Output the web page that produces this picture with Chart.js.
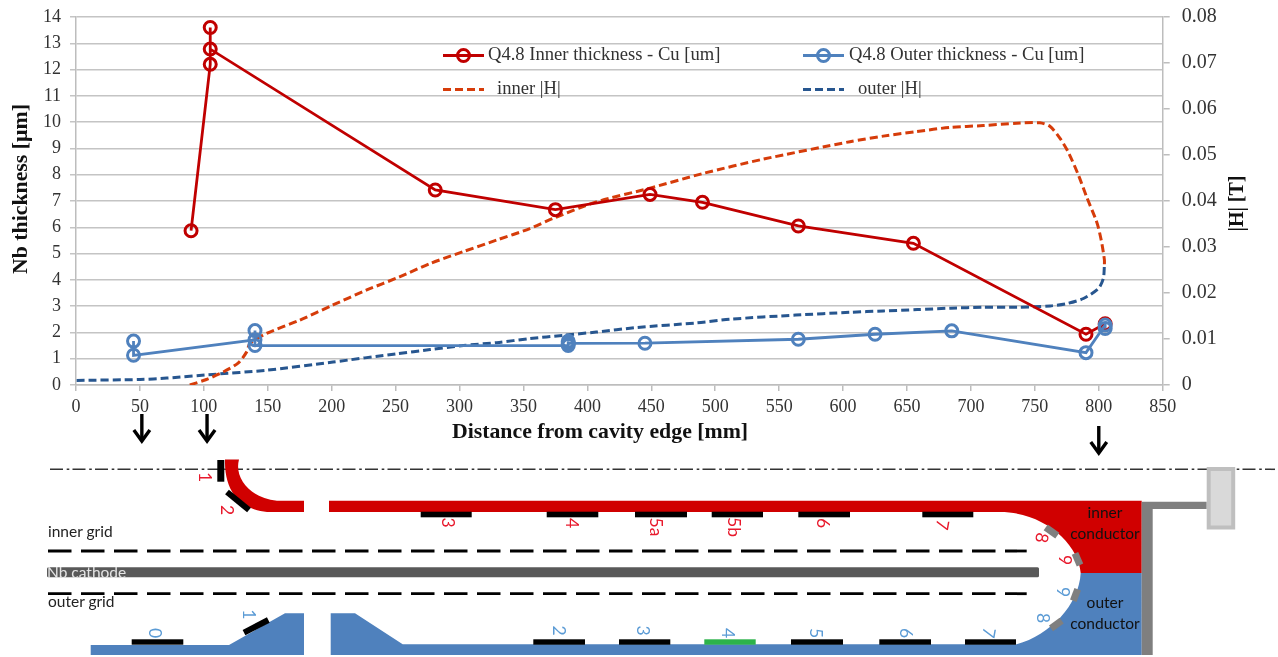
<!DOCTYPE html>
<html>
<head>
<meta charset="utf-8">
<title>Nb thickness</title>
<script src="https://cdn.jsdelivr.net/npm/chart.js@4"></script>
<style>
  html, body { margin: 0; background: #fff; overflow: hidden; }
  #wrap { position: relative; width: 1278px; height: 657px; }
  #wrap canvas, #wrap svg { position: absolute; left: 0; top: 0; }
  svg text { font-family: Lato, sans-serif; }
</style>
</head>
<body>
<div id="wrap">
  <canvas id="grafico"></canvas>
  <svg id="esquema" width="1278" height="657"></svg>
</div>
<script>
const innerX = [90, 105, 105, 105, 281, 375, 449, 490, 565, 655, 790, 805];
const innerY = [5.87, 12.2, 13.6, 12.78, 7.42, 6.67, 7.25, 6.95, 6.05, 5.39, 1.93, 2.33];

const outerX = [45, 45, 140, 140, 140, 385, 385, 385, 445, 565, 625, 685, 790, 805, 805];
const outerY = [1.67, 1.13, 1.72, 2.07, 1.5, 1.5, 1.66, 1.58, 1.59, 1.74, 1.93, 2.06, 1.23, 2.28, 2.15];

const innerHX = [89, 102, 115, 127, 133.5, 136, 149, 175, 201, 227, 253, 277, 303, 329, 355, 373, 407, 449, 490.6, 537.6, 605.4, 631.4, 657.5, 683.6, 709.7, 735.8, 754, 762, 769.7, 776, 784, 790.5, 797.8, 799.8, 802.4, 804.4, 804.4];
const innerHY = [0, 0.0012, 0.0028, 0.0048, 0.0072, 0.009, 0.0112, 0.0141, 0.0174, 0.0206, 0.0235, 0.0264, 0.029, 0.0315, 0.034, 0.0362, 0.0398, 0.0428, 0.046, 0.0491, 0.0529, 0.0541, 0.0551, 0.056, 0.0564, 0.0569, 0.057, 0.0562, 0.0536, 0.0507, 0.0457, 0.0409, 0.0359, 0.0341, 0.0308, 0.0272, 0.026];

const outerHX = [0.5, 50, 71, 107, 149, 201, 251, 277, 303, 329, 355, 381, 407, 438.6, 485.5, 511.5, 563, 605.4, 631.5, 658, 684, 710, 736, 762, 775, 788, 799.8, 803.6, 804.4];
const outerHY = [0.001, 0.0012, 0.0015, 0.0023, 0.0032, 0.005, 0.0068, 0.0077, 0.0086, 0.0092, 0.0101, 0.0108, 0.0115, 0.0125, 0.0135, 0.0143, 0.0152, 0.0158, 0.0161, 0.0164, 0.0167, 0.0169, 0.0169, 0.0172, 0.0177, 0.0188, 0.021, 0.0232, 0.026];

const arrowX = [51.5, 102.5, 800];

const COLOR_INNER = '#c00000';
const COLOR_OUTER = '#4f81bd';
const COLOR_INNER_H = '#d63c0a';
const COLOR_OUTER_H = '#27568f';
const SERIF = '"Liberation Serif", serif';

const puntos = (xs, ys) => xs.map((x, i) => ({ x, y: ys[i] }));

// keep the plot box where the reference has it, whatever the tick labels want
const fijar = (s, size) => {
  if (s.isHorizontal()) s.height = size; else s.width = size;
  s.paddingTop = 0;
  s.paddingBottom = 0;
  s.paddingLeft = 0;
  s.paddingRight = 0;
};

// axis titles, legend and the arrows under the x axis, drawn after the chart
const extras = {
  id: 'extras',
  afterDraw(chart) {
    const ctx = chart.ctx;
    const filas = [
      { i: 0, x: 443, y: 55.5, tx: 488 },
      { i: 1, x: 803, y: 55.5, tx: 849 },
      { i: 2, x: 443, y: 89.5, tx: 497 },
      { i: 3, x: 803, y: 89.5, tx: 858 }
    ];
    ctx.save();
    filas.forEach((f) => {
      const ds = chart.data.datasets[f.i];
      ctx.strokeStyle = ds.borderColor;
      ctx.lineWidth = ds.borderWidth;
      ctx.setLineDash(ds.borderDash || []);
      ctx.beginPath();
      ctx.moveTo(f.x, f.y);
      ctx.lineTo(f.x + 41, f.y);
      ctx.stroke();
      ctx.setLineDash([]);
      if (ds.pointRadius) {
        ctx.beginPath();
        ctx.arc(f.x + 20.5, f.y, ds.pointRadius, 0, Math.PI * 2);
        ctx.lineWidth = ds.pointBorderWidth;
        ctx.stroke();
      }
      ctx.fillStyle = '#333';
      ctx.font = '18.6px ' + SERIF;
      ctx.textBaseline = 'middle';
      ctx.fillText(ds.label, f.tx, f.y);
    });

    ctx.fillStyle = '#111';
    ctx.textAlign = 'center';
    ctx.font = 'bold 21.8px ' + SERIF;
    ctx.fillText('Distance from cavity edge [mm]', 600, 432);
    const vertical = (texto, x, y) => {
      ctx.save();
      ctx.translate(x, y);
      ctx.rotate(-Math.PI / 2);
      ctx.fillText(texto, 0, 0);
      ctx.restore();
    };
    vertical('Nb thickness [µm]', 21, 189);
    ctx.font = 'bold 20px ' + SERIF;
    vertical('|H| [T]', 1238, 203.5);

    ctx.strokeStyle = '#000';
    arrowX.forEach((v) => {
      const x = chart.scales.x.getPixelForValue(v);
      const top = v > 500 ? 426 : 414;
      ctx.lineWidth = 3.4;
      ctx.beginPath();
      ctx.moveTo(x, top);
      ctx.lineTo(x, top + 24);
      ctx.stroke();
      ctx.beginPath();
      ctx.moveTo(x - 8, top + 16);
      ctx.lineTo(x, top + 27);
      ctx.lineTo(x + 8, top + 16);
      ctx.stroke();
    });
    ctx.restore();
  }
};

new Chart(document.getElementById('grafico'), {
  type: 'scatter',
  data: {
    datasets: [
      { label: 'Q4.8 Inner thickness - Cu [um]', data: puntos(innerX, innerY), yAxisID: 'y', order: 2,
        showLine: true, borderColor: COLOR_INNER, borderWidth: 2.8, pointRadius: 6, pointBorderWidth: 3,
        pointBorderColor: COLOR_INNER, backgroundColor: 'transparent', pointBackgroundColor: 'transparent' },
      { label: 'Q4.8 Outer thickness - Cu [um]', data: puntos(outerX, outerY), yAxisID: 'y', order: 1,
        showLine: true, borderColor: COLOR_OUTER, borderWidth: 2.8, pointRadius: 6, pointBorderWidth: 3,
        pointBorderColor: COLOR_OUTER, backgroundColor: 'transparent', pointBackgroundColor: 'transparent' },
      { label: 'inner |H|', data: puntos(innerHX, innerHY), yAxisID: 'y1', order: 3,
        showLine: true, borderColor: COLOR_INNER_H, borderWidth: 3, borderDash: [8, 4], pointRadius: 0, tension: 0.25 },
      { label: 'outer |H|', data: puntos(outerHX, outerHY), yAxisID: 'y1', order: 3,
        showLine: true, borderColor: COLOR_OUTER_H, borderWidth: 3, borderDash: [8, 4], pointRadius: 0, tension: 0.25 }
    ]
  },
  options: {
    responsive: true,
    maintainAspectRatio: false,
    animation: false,
    layout: { padding: { top: 17, bottom: 212, left: 0, right: 0 } },
    plugins: { legend: { display: false }, tooltip: { enabled: false } },
    scales: {
      x: {
        type: 'linear', min: 0, max: 850,
        afterFit: (s) => fijar(s, 60),
        ticks: { stepSize: 50, maxRotation: 0, color: '#333', padding: 5, font: { family: SERIF, size: 18 } },
        grid: { drawOnChartArea: false, color: '#bdbdbd', lineWidth: 1.5, tickLength: 6 },
        border: { color: '#bdbdbd', width: 1.5 }
      },
      y: {
        position: 'left', min: 0, max: 14,
        afterFit: (s) => fijar(s, 76),
        ticks: { stepSize: 1, color: '#333', padding: 9, font: { family: SERIF, size: 18 } },
        grid: { color: '#c4c4c4', lineWidth: 1.5, tickLength: 6 },
        border: { color: '#bdbdbd', width: 1.5 }
      },
      y1: {
        position: 'right', min: 0, max: 0.08,
        afterFit: (s) => fijar(s, 115.3),
        ticks: { stepSize: 0.01, color: '#333', padding: 12, font: { family: SERIF, size: 20 } },
        grid: { drawOnChartArea: false, color: '#bdbdbd', lineWidth: 1.5, tickLength: 7 },
        border: { color: '#bdbdbd', width: 1.5 }
      }
    }
  },
  plugins: [extras]
});

// cavity cross-section under the chart
const ROJO = '#d00000', AZUL = '#4f81bd', GRIS = '#7f7f7f', ROJO_TXT = '#e8192c', AZUL_TXT = '#5b9bd5';
const padsInner = [[420.7, 471.7], [546.7, 598.3], [635, 687], [711.7, 763], [798.3, 850], [922.3, 973.3]];
const padsOuter = [[131.7, 183.3, '#000'], [533.3, 585, '#000'], [619, 670.3, '#000'], [704.3, 755.7, '#2db34a'], [791, 843, '#000'], [879.3, 931, '#000'], [965, 1016, '#000']];
const labelsInner = [['1', 205, 477], ['2', 227.5, 510], ['3', 448, 522.7], ['4', 572.7, 523], ['5a', 656.7, 527], ['5b', 734, 527], ['6', 823, 523], ['7', 942.7, 525, 100], ['8', 1042.3, 538, 100], ['9', 1065, 560]];
const labelsOuter = [['0', 155.7, 633], ['1', 249.3, 614.3], ['2', 559, 630.7], ['3', 643, 630.7], ['4', 728.3, 633], ['5', 816.7, 633], ['6', 906.7, 633], ['7', 989.3, 633, 100], ['9', 1063.3, 592], ['8', 1043.3, 618]];
const greys = [[1045.7, 527.3, 1057.3, 535.7], [1075, 553.3, 1080, 565], [1077.7, 589.3, 1073.3, 600.7], [1061.7, 620.7, 1051, 628.3]];
const blacks = [[227, 492, 249, 510], [244, 632.7, 268.3, 620]];

const giro = (t, x, y, color, ang) =>
  `<text x="${x}" y="${y}" fill="${color}" font-size="17.5" text-anchor="middle" dominant-baseline="central" transform="rotate(${ang || 90} ${x} ${y})">${t}</text>`;
const barra = (l, stroke, w) => `<line x1="${l[0]}" y1="${l[1]}" x2="${l[2]}" y2="${l[3]}" stroke="${stroke}" stroke-width="${w}"/>`;

document.getElementById('esquema').innerHTML = `
  <line x1="50" y1="469.3" x2="1275" y2="469.3" stroke="#333" stroke-width="1.5" stroke-dasharray="13 3.7 2.6 3.2"/>
  <path d="M225 459.5 H239 C234 478 250 498 277 500.7 H304 V512 H267 C245 510 224 496 225 459.5Z" fill="${ROJO}"/>
  <path d="M329 500.7 H1141.7 V573 H1080.7 C1079 545 1045 512 1000 512 H329Z" fill="${ROJO}"/>
  <path d="M90.7 645 H229 L285 613.3 H304 V655 H90.7Z" fill="${AZUL}"/>
  <path d="M330.7 613.3 H355 L402.7 644.3 H1016.7 C1050 635 1079 605 1080.7 573 H1141.7 V655 H330.7Z" fill="${AZUL}"/>
  <path d="M1141.7 501.7 H1206.7 V509 H1152.7 V655 H1141.7Z" fill="${GRIS}"/>
  <rect x="1208.7" y="469" width="24.5" height="58.5" fill="#d9d9d9" stroke="#bfbfbf" stroke-width="4"/>
  <line x1="48" y1="551" x2="1026.7" y2="551" stroke="#000" stroke-width="2.8" stroke-dasharray="23.5 9.5"/>
  <line x1="48" y1="593.7" x2="1026.7" y2="593.7" stroke="#000" stroke-width="2.8" stroke-dasharray="23.5 9.5"/>
  <rect x="47" y="567.3" width="992" height="10" rx="1.5" fill="#595959"/>
  <rect x="217.3" y="460" width="7" height="21.7" fill="#000"/>
  ${padsInner.map((p) => `<rect x="${p[0]}" y="511.7" width="${p[1] - p[0]}" height="5.6" fill="#000"/>`).join('')}
  ${padsOuter.map((p) => `<rect x="${p[0]}" y="639.3" width="${p[1] - p[0]}" height="5.4" fill="${p[2]}"/>`).join('')}
  ${blacks.map((l) => barra(l, '#000', 6)).join('')}
  ${greys.map((l) => barra(l, GRIS, 7)).join('')}
  ${labelsInner.map((l) => giro(l[0], l[1], l[2], ROJO_TXT, l[3])).join('')}
  ${labelsOuter.map((l) => giro(l[0], l[1], l[2], AZUL_TXT, l[3])).join('')}
  <text x="48" y="537" font-size="15.5" fill="#222">inner grid</text>
  <text x="48" y="607" font-size="15.5" fill="#222">outer grid</text>
  <text x="47" y="578" font-size="15.5" fill="#e4e4e4">Nb cathode</text>
  <g font-size="15.5" fill="#111" text-anchor="middle">
    <text x="1105" y="518">inner</text>
    <text x="1105" y="539">conductor</text>
    <text x="1105" y="608">outer</text>
    <text x="1105" y="629">conductor</text>
  </g>`;
</script>
</body>
</html>
